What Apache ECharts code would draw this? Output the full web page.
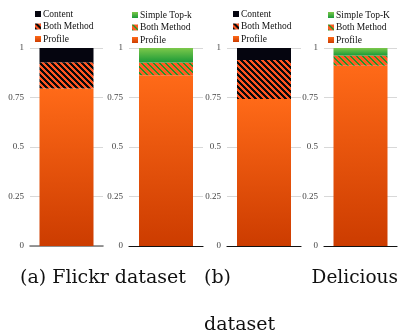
<!DOCTYPE html>
<html><head><meta charset="utf-8">
<script src="https://cdn.jsdelivr.net/npm/echarts@6/dist/echarts.min.js"></script>
<style>html,body{margin:0;padding:0;background:#fff}#c{width:404px;height:335px}</style>
</head><body><div id="c"></div>
<script>
// ---- data ----
const panels = ['Flickr Content', 'Flickr Top-k', 'Delicious Content', 'Delicious Top-K'];
const topNames = ['Content', 'Simple Top-k', 'Content', 'Simple Top-K'];
const profileVals = [0.795, 0.862, 0.743, 0.91];
const bothVals = [0.133, 0.065, 0.197, 0.052];
const topVals = [0.072, 0.073, 0.06, 0.038];
const yTicks = [0, 0.25, 0.5, 0.75, 1];

// ---- styles ----
const gridX = [[30, 103], [129, 203], [227, 301], [324, 397]];
const legendX = [35, 132, 233, 328];
const legendTop = [9, 10, 9, 10];
const isTopK = [false, true, false, true];

function stripePattern(bg, fg, period, width) {
  const c = document.createElement('canvas');
  c.width = period; c.height = period;
  const ctx = c.getContext('2d');
  const img = ctx.createImageData(period, period);
  const hex = h => [parseInt(h.slice(1,3),16), parseInt(h.slice(3,5),16), parseInt(h.slice(5,7),16)];
  const B = hex(bg), F = hex(fg);
  for (let y = 0; y < period; y++) for (let x = 0; x < period; x++) {
    const k = (((x - y) % period) + period) % period;
    const col = k < width ? F : B;
    const i = (y * period + x) * 4;
    img.data[i] = col[0]; img.data[i+1] = col[1]; img.data[i+2] = col[2]; img.data[i+3] = 255;
  }
  ctx.putImageData(img, 0, 0);
  return { image: c, repeat: 'repeat' };
}
const blackHatch = stripePattern('#ff5522', '#0a0a0a', 6, 3);
const greenHatch = stripePattern('#ff5a22', '#1e9a2a', 6, 2);
const profileColor = new echarts.graphic.LinearGradient(0, 0, 0, 1, [
  { offset: 0, color: '#ff6a18' }, { offset: 1, color: '#cc3c00' }]);
const greenColor = new echarts.graphic.LinearGradient(0, 0, 0, 1, [
  { offset: 0, color: '#7cc84a' }, { offset: 1, color: '#1a9a38' }]);
const contentColor = '#05050f';

const chart = echarts.init(document.getElementById('c'), null, { renderer: 'canvas' });
const grid = [], xAxis = [], yAxis = [], series = [], legend = [];
panels.forEach((p, i) => {
  grid.push({ left: gridX[i][0], width: gridX[i][1] - gridX[i][0], top: 48, height: 198 });
  xAxis.push({ type: 'category', gridIndex: i, data: [p],
    axisLabel: { show: false }, axisTick: { show: false },
    axisLine: { lineStyle: { color: i === 0 ? '#777' : '#111', width: i === 0 ? 1.6 : 1.2 } } });
  yAxis.push({ type: 'value', gridIndex: i, min: yTicks[0], max: yTicks[yTicks.length - 1], interval: 0.25,
    axisLine: { show: false }, axisTick: { show: false },
    axisLabel: { fontFamily: 'Liberation Serif', fontSize: 9, color: '#444', margin: 6 },
    splitLine: { lineStyle: { color: '#d8d8d8', width: 1 } } });
  const hatch = isTopK[i] ? greenHatch : blackHatch;
  const topColor = isTopK[i] ? greenColor : contentColor;
  const stack = 's' + i;
  series.push({ type: 'bar', name: 'Profile', xAxisIndex: i, yAxisIndex: i, stack, barWidth: 54,
    data: [profileVals[i]], itemStyle: { color: profileColor }, silent: true });
  series.push({ type: 'bar', name: 'Both Method', xAxisIndex: i, yAxisIndex: i, stack, barWidth: 54,
    data: [bothVals[i]], itemStyle: { color: hatch }, silent: true });
  series.push({ type: 'bar', name: topNames[i], xAxisIndex: i, yAxisIndex: i, stack, barWidth: 54,
    data: [topVals[i]], itemStyle: { color: topColor }, silent: true });
  legend.push({ orient: 'vertical', left: legendX[i], top: legendTop[i], padding: 0,
    itemWidth: 6, itemHeight: 6, itemGap: 2.5,
    selectedMode: false, icon: 'rect',
    textStyle: { fontFamily: 'Liberation Serif', fontSize: 9.5, color: '#111', padding: [0, 0, 0, -3] },
    data: [
      { name: topNames[i], itemStyle: { color: topColor } },
      { name: 'Both Method', itemStyle: { color: hatch } },
      { name: 'Profile', itemStyle: { color: profileColor } }
    ] });
});

chart.setOption({
  animation: false,
  grid, xAxis, yAxis, series, legend,
  graphic: [
    { type: 'text', left: 20, top: 269, style: { text: '(a) Flickr dataset', font: '19px "DejaVu Serif"', fill: '#111' } },
    { type: 'text', left: 204, top: 269, style: { text: '(b)', font: '19px "DejaVu Serif"', fill: '#111' } },
    { type: 'text', right: 6, top: 269, style: { text: 'Delicious', font: '18.5px "DejaVu Serif"', fill: '#111' } },
    { type: 'text', left: 204, top: 316, style: { text: 'dataset', font: '19px "DejaVu Serif"', fill: '#111' } }
  ]
});
</script></body></html>
